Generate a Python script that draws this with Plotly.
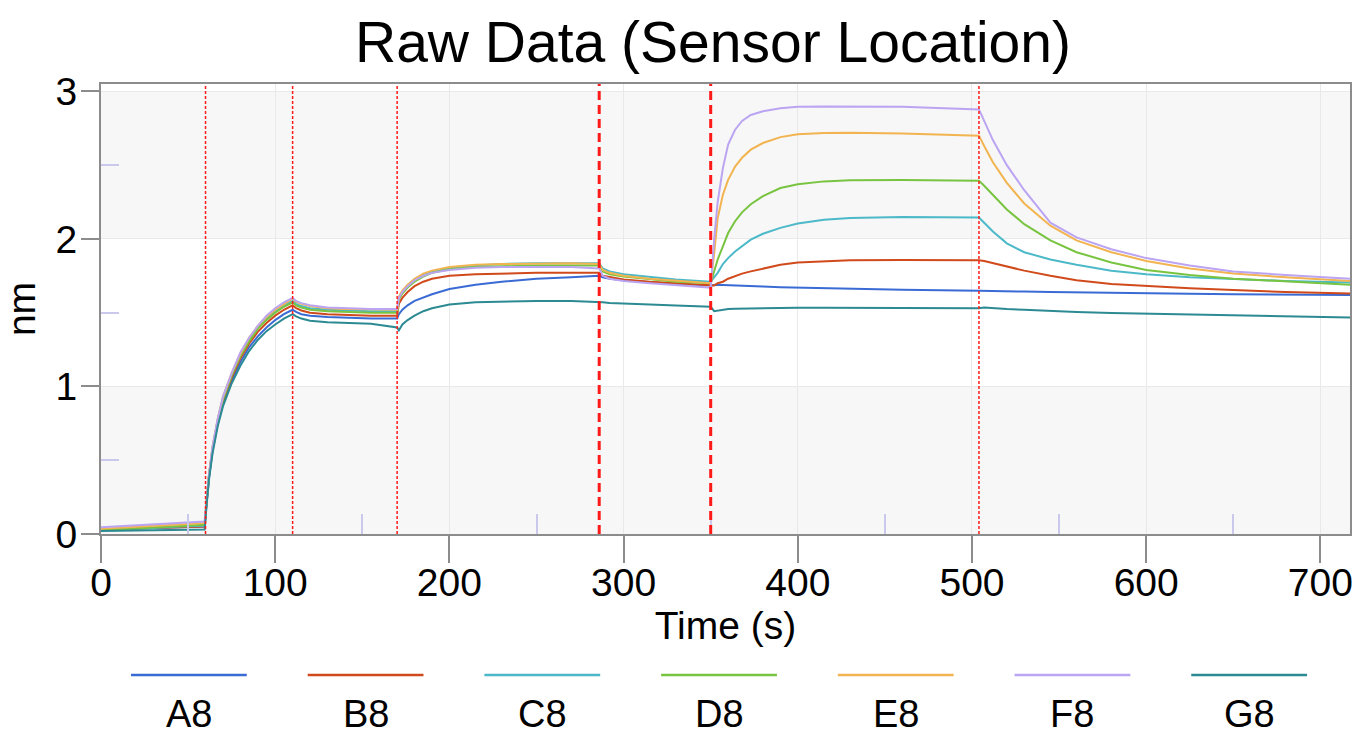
import plotly.graph_objects as go

# ---------------- data ----------------
time_s = [0, 15, 30, 45, 59.5,
          60.5, 61, 62, 64, 67, 70, 75, 80, 85, 90, 95, 100, 105, 110,
          112, 115, 120, 130, 140, 155, 170,
          171, 173, 176, 180, 185, 190, 200, 215, 230, 250, 270, 286,
          288, 292, 300, 315, 330, 350,
          352, 354, 357, 360, 364, 368, 373, 380, 390, 400, 415, 430, 460, 504,
          507, 512, 520, 530, 545, 560, 580, 600, 625, 650, 680, 717]

A8 = [0.03, 0.035, 0.04, 0.045, 0.05,
      0.19, 0.27, 0.38, 0.56, 0.745, 0.88, 1.04, 1.165, 1.265, 1.34, 1.40, 1.45, 1.49, 1.52,
      1.505, 1.49, 1.48, 1.47, 1.465, 1.46, 1.46,
      1.49, 1.52, 1.55, 1.58, 1.605, 1.625, 1.66, 1.69, 1.71, 1.73, 1.74, 1.75,
      1.74, 1.73, 1.72, 1.705, 1.695, 1.685,
      1.69, 1.69, 1.688, 1.686, 1.684, 1.682, 1.68, 1.677, 1.673, 1.67, 1.665, 1.66, 1.655, 1.648,
      1.648, 1.647, 1.645, 1.643, 1.64, 1.637, 1.634, 1.631, 1.628, 1.625, 1.622, 1.62]

B8 = [0.03, 0.035, 0.04, 0.045, 0.05,
      0.2, 0.28, 0.39, 0.57, 0.76, 0.9, 1.06, 1.19, 1.29, 1.37, 1.43, 1.48, 1.52, 1.55,
      1.53, 1.515, 1.50, 1.49, 1.485, 1.48, 1.48,
      1.56, 1.60, 1.64, 1.68, 1.71, 1.73, 1.75, 1.76, 1.765, 1.77, 1.77, 1.77,
      1.75, 1.74, 1.725, 1.71, 1.70, 1.69,
      1.685, 1.70, 1.71, 1.73, 1.75, 1.765, 1.78, 1.80, 1.825, 1.84, 1.85, 1.855, 1.857, 1.856,
      1.85, 1.835, 1.81, 1.785, 1.75, 1.72, 1.695, 1.68, 1.665, 1.653, 1.64, 1.63]

C8 = [0.03, 0.035, 0.04, 0.05, 0.055,
      0.2, 0.285, 0.40, 0.58, 0.775, 0.92, 1.08, 1.21, 1.31, 1.395, 1.46, 1.51, 1.55, 1.58,
      1.56, 1.545, 1.53, 1.52, 1.515, 1.51, 1.51,
      1.60, 1.64, 1.685, 1.725, 1.76, 1.78, 1.805, 1.82, 1.83, 1.835, 1.835, 1.835,
      1.80, 1.78, 1.76, 1.74, 1.725, 1.71,
      1.74, 1.77, 1.83, 1.87, 1.915, 1.95, 1.995, 2.035, 2.075, 2.105, 2.13, 2.142, 2.148, 2.145,
      2.11, 2.05, 1.97, 1.91, 1.86, 1.825, 1.785, 1.76, 1.74, 1.727, 1.715, 1.705]

D8 = [0.025, 0.035, 0.045, 0.055, 0.063,
      0.2, 0.28, 0.395, 0.58, 0.77, 0.91, 1.075, 1.205, 1.305, 1.39, 1.45, 1.50, 1.54, 1.57,
      1.55, 1.535, 1.52, 1.51, 1.505, 1.50, 1.50,
      1.59, 1.63, 1.67, 1.71, 1.745, 1.77, 1.795, 1.81, 1.815, 1.82, 1.82, 1.82,
      1.78, 1.76, 1.745, 1.725, 1.71, 1.70,
      1.78, 1.86, 1.95, 2.04, 2.12, 2.18, 2.235, 2.29, 2.345, 2.37, 2.39, 2.397, 2.40, 2.395,
      2.36, 2.30, 2.20, 2.10, 1.99, 1.91, 1.84, 1.79, 1.755, 1.73, 1.71, 1.69]

E8 = [0.035, 0.045, 0.055, 0.065, 0.075,
      0.21, 0.29, 0.40, 0.59, 0.78, 0.93, 1.09, 1.22, 1.33, 1.41, 1.47, 1.52, 1.56, 1.595,
      1.575, 1.56, 1.545, 1.53, 1.525, 1.52, 1.52,
      1.61, 1.65, 1.69, 1.73, 1.765, 1.785, 1.81, 1.825, 1.83, 1.835, 1.835, 1.83,
      1.79, 1.77, 1.75, 1.73, 1.715, 1.70,
      1.90, 2.14, 2.30, 2.40, 2.49, 2.55, 2.605, 2.65, 2.69, 2.71, 2.718, 2.72, 2.715, 2.70,
      2.63, 2.52, 2.38, 2.24, 2.09, 1.99, 1.91, 1.85, 1.80, 1.765, 1.74, 1.715]

F8 = [0.045, 0.055, 0.065, 0.075, 0.085,
      0.21, 0.29, 0.40, 0.59, 0.78, 0.93, 1.09, 1.23, 1.33, 1.41, 1.48, 1.53, 1.57, 1.60,
      1.58, 1.565, 1.55, 1.535, 1.53, 1.525, 1.525,
      1.60, 1.64, 1.68, 1.72, 1.75, 1.77, 1.79, 1.805, 1.81, 1.81, 1.81, 1.80,
      1.75, 1.73, 1.715, 1.70, 1.685, 1.67,
      2.00, 2.25, 2.48, 2.64, 2.74, 2.80, 2.84, 2.865, 2.885, 2.895, 2.898, 2.898, 2.895, 2.878,
      2.80, 2.67, 2.50, 2.33, 2.11, 2.01, 1.93, 1.87, 1.82, 1.78, 1.755, 1.73]

G8 = [0.02, 0.022, 0.025, 0.028, 0.03,
      0.18, 0.26, 0.37, 0.545, 0.73, 0.865, 1.02, 1.14, 1.24, 1.315, 1.375, 1.42, 1.46, 1.49,
      1.475, 1.46, 1.445, 1.435, 1.43, 1.425, 1.40,
      1.38, 1.42, 1.45, 1.48, 1.51, 1.53, 1.555, 1.57, 1.575, 1.58, 1.58, 1.575,
      1.57, 1.565, 1.56, 1.555, 1.548, 1.54,
      1.51, 1.515, 1.52, 1.525, 1.527, 1.528, 1.53, 1.53, 1.532, 1.533, 1.533, 1.532, 1.532, 1.53,
      1.535, 1.53, 1.525, 1.52, 1.51, 1.505, 1.498, 1.493, 1.487, 1.482, 1.475, 1.468]

sensor_names = ["A8", "B8", "C8", "D8", "E8", "F8", "G8"]
sensor_values = [A8, B8, C8, D8, E8, F8, G8]
sensor_colors = ["#3a6bd4", "#d04a1c", "#4cb9c9", "#78c440", "#f2b450", "#bba4f2", "#2c8a93"]

step_times = [60, 110, 170, 286, 350, 504]
step_thick = [False, False, False, True, True, False]

x_ticks = [0, 100, 200, 300, 400, 500, 600, 700]
y_ticks = [0, 1, 2, 3]

# ---------------- figure ----------------
FONT = "Arial, 'Liberation Sans', sans-serif"
W, H = 1365, 738
ML, MR, MT, MB = 101, 13, 84, 204
PW, PH = W - ML - MR, H - MT - MB

fig = go.Figure()
for name, vals, col in zip(sensor_names, sensor_values, sensor_colors):
    assert len(vals) == len(time_s), name
    fig.add_trace(go.Scatter(x=time_s, y=vals, mode="lines", name=name,
                             line=dict(color=col, width=2), showlegend=False))

shapes = []
# alternating background bands
for y0 in (0, 2):
    shapes.append(dict(type="rect", xref="paper", yref="y", x0=0, x1=1, y0=y0, y1=y0 + 1,
                       fillcolor="#f7f7f7", line=dict(width=0), layer="below"))
# red step markers
for ts, thick in zip(step_times, step_thick):
    shapes.append(dict(type="line", xref="x", yref="paper", x0=ts, x1=ts, y0=0, y1=1,
                       line=dict(color="#ff1a1a", width=3 if thick else 1.5,
                                 dash="9px,5px" if thick else "3px,2px"),
                       layer="above"))

# custom legend: line above label
annotations = []
leg_c0, leg_dx, leg_half = 189, 177, 58
for i, (name, col) in enumerate(zip(sensor_names, sensor_colors)):
    cx = leg_c0 + i * leg_dx
    shapes.append(dict(type="line", xref="paper", yref="paper",
                       x0=(cx - leg_half - ML) / PW, x1=(cx + leg_half - ML) / PW,
                       y0=(MT + PH - 675) / PH, y1=(MT + PH - 675) / PH,
                       line=dict(color=col, width=2.5)))
    annotations.append(dict(text=name, xref="paper", yref="paper",
                            x=(cx - ML) / PW, y=(MT + PH - 737) / PH,
                            xanchor="center", yanchor="bottom", showarrow=False,
                            font=dict(family=FONT, size=38, color="black")))

axis_common = dict(
    showline=True, linecolor="#8c8c8c", linewidth=2, mirror=True,
    ticks="outside", tickcolor="#8c8c8c", tickwidth=2,
    showgrid=True, gridcolor="#e9e9e9", gridwidth=1, zeroline=False,
    tickfont=dict(family=FONT, size=39, color="black"),
)

fig.update_layout(
    width=W, height=H,
    margin=dict(l=ML, r=MR, t=MT, b=MB, pad=0),
    paper_bgcolor="white", plot_bgcolor="white",
    title=dict(text="Raw Data (Sensor Location)", x=713 / W, xref="container", xanchor="center",
               y=1 - 42 / H, yref="container", yanchor="middle",
               font=dict(family=FONT, size=57, color="black")),
    xaxis=dict(range=[0, 717], tickvals=x_ticks, ticklen=27, ticklabelstandoff=-14,
               minor=dict(ticks="inside", ticklen=20, tickcolor="#cbc8ee", tickwidth=2,
                          tick0=50, dtick=100, showgrid=False),
               title=dict(text="Time (s)", standoff=6,
                          font=dict(family=FONT, size=39, color="black")),
               **axis_common),
    yaxis=dict(range=[0, 3.05], tickvals=y_ticks, ticklen=18, ticklabelstandoff=-4,
               minor=dict(ticks="inside", ticklen=18, tickcolor="#cbc8ee", tickwidth=2,
                          tick0=0.5, dtick=1, showgrid=False),
               title=dict(text="nm", standoff=14,
                          font=dict(family=FONT, size=39, color="black")),
               **axis_common),
    shapes=shapes,
    annotations=annotations,
)

fig.write_html("out.html")
